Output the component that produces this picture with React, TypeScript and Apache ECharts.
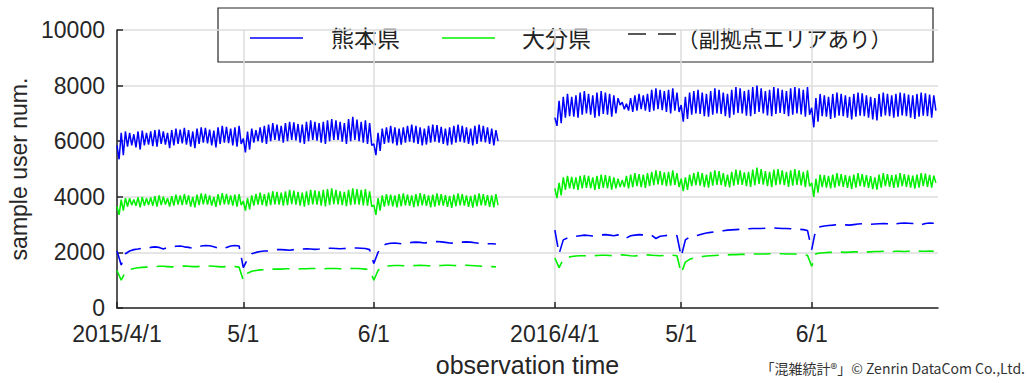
import React, { useEffect, useRef } from "react";
import * as echarts from "echarts";

// ---- axis definition (days counted from 2015/4/1; 2016/4/1 placed after a gap) ----
const tickLabels = ["2015/4/1", "5/1", "6/1", "2016/4/1", "5/1", "6/1"];
const tickDays = [0, 30, 61, 104, 134, 165];
const periodStartDays = [0, 104];
const totalDays = 195;
const yTicks = [0, 2000, 4000, 6000, 8000, 10000];

// ---- 熊本県 (solid) : daily peaks / troughs ----
const kumamotoPeak2015 = [
  5850, 6300, 6350, 6300, 6250, 6350, 6380, 6300, 6350, 6400, 6420, 6350, 6300, 6400, 6450, 6420, 6480, 6400, 6350, 6450,
  6500, 6480, 6420, 6380, 6500, 6550, 6520, 6450, 6500, 6550,
  6100, 6350, 6450, 6400, 6500, 6550, 6600, 6650, 6600, 6550, 6650, 6700, 6680, 6620, 6600, 6700, 6750, 6700, 6650, 6700,
  6750, 6800, 6750, 6700, 6650, 6800, 6880, 6780, 6700, 6750, 6650,
  5900, 6300, 6450, 6500, 6550, 6500, 6450, 6500, 6550, 6600, 6550, 6500, 6450, 6550, 6600, 6580, 6520, 6450, 6500, 6550,
  6600, 6550, 6500, 6450, 6550, 6600, 6550, 6500, 6450, 6400,
];
const kumamotoTrough2015 = [
  5350, 5500, 5800, 5850, 5780, 5700, 5850, 5880, 5820, 5800, 5900, 5880, 5750, 5850, 5900, 5920, 5880, 5800, 5750, 5900,
  5950, 5920, 5850, 5780, 5900, 5950, 5930, 5850, 5800, 5900,
  5600, 5700, 5950, 6000, 5950, 5900, 6000, 6050, 6020, 5950, 6000, 6050, 6030, 5950, 5900, 6000, 6050, 6020, 5950, 5900,
  6000, 6050, 6050, 5980, 5900, 6000, 6050, 6000, 5950, 5900, 5850,
  5500, 5650, 5900, 5950, 5920, 5850, 5880, 5950, 5980, 5950, 5900, 5850, 5880, 5950, 5980, 5950, 5900, 5850, 5880, 5950,
  5980, 5950, 5900, 5850, 5900, 5980, 5960, 5900, 5850, 6000,
];
const kumamotoPeak2016 = [
  6850, 7450, 7600, 7700, 7600, 7650, 7750, 7800, 7700, 7650, 7750, 7800, 7750, 7700, 7650, 7550, 7400, 7350, 7550, 7650,
  7700, 7650, 7700, 7850, 7900, 7850, 7800, 7850, 7900, 7750,
  7300, 7600, 7750, 7800, 7850, 7750, 7700, 7800, 7900, 7850, 7750, 7700, 7850, 7950, 7900, 7800, 7850, 7950, 8000, 7900,
  7800, 7850, 7950, 7900, 7850, 7800, 7900, 7950, 7900, 7850, 7950,
  7200, 7550, 7700, 7650, 7600, 7700, 7750, 7700, 7650, 7600, 7700, 7750, 7720, 7650, 7600, 7550, 7700, 7750, 7700, 7650,
  7700, 7750, 7720, 7680, 7650, 7700, 7750, 7720, 7680, 7650,
];
const kumamotoTrough2016 = [
  6550, 6650, 6850, 6900, 6880, 6850, 6950, 7000, 6950, 6850, 6900, 6980, 6950, 6880, 7000, 7300, 7150, 7100, 7050, 7100,
  7150, 7100, 7050, 7100, 7150, 7120, 7050, 7000, 7100, 7050,
  6700, 6800, 6950, 7000, 6980, 6900, 6880, 6950, 7000, 6980, 6900, 6850, 6950, 7020, 7000, 6920, 6900, 6980, 7050, 7000,
  6930, 6900, 6980, 7020, 6980, 6900, 6950, 7000, 6960, 6880, 6950,
  6500, 6700, 6900, 6880, 6800, 6850, 6920, 6900, 6850, 6780, 6880, 6920, 6900, 6850, 6780, 6750, 6880, 6930, 6900, 6850,
  6880, 6930, 6900, 6850, 6800, 6880, 6920, 6900, 6850, 7100,
];

// ---- 大分県 (solid) : daily peaks / troughs ----
const oitaPeak2015 = [
  3650, 3900, 3950, 3950, 3900, 3980, 4000, 3950, 3980, 4020, 4050, 4000, 3950, 4020, 4080, 4050, 4100, 4050, 4000, 4080,
  4120, 4100, 4050, 4000, 4100, 4130, 4100, 4050, 4080, 4100,
  3850, 3950, 4050, 4100, 4150, 4100, 4150, 4200, 4180, 4150, 4200, 4250, 4220, 4180, 4150, 4200, 4250, 4230, 4200, 4250,
  4280, 4300, 4250, 4200, 4180, 4250, 4300, 4280, 4250, 4280, 4200,
  3700, 3950, 4050, 4100, 4080, 4050, 4100, 4120, 4080, 4050, 4100, 4130, 4100, 4050, 4080, 4120, 4100, 4060, 4030, 4080,
  4120, 4100, 4050, 4030, 4080, 4120, 4100, 4060, 4050, 4100,
];
const oitaTrough2015 = [
  3350, 3500, 3650, 3700, 3680, 3620, 3680, 3700, 3680, 3650, 3700, 3720, 3650, 3680, 3720, 3700, 3720, 3650, 3620, 3700,
  3730, 3720, 3680, 3640, 3700, 3730, 3720, 3680, 3650, 3700,
  3500, 3550, 3680, 3720, 3700, 3660, 3700, 3730, 3720, 3680, 3700, 3740, 3720, 3680, 3650, 3700, 3730, 3720, 3680, 3650,
  3700, 3740, 3730, 3700, 3660, 3700, 3730, 3720, 3690, 3680, 3650,
  3350, 3500, 3650, 3680, 3660, 3620, 3660, 3690, 3670, 3630, 3660, 3690, 3670, 3620, 3650, 3690, 3680, 3640, 3600, 3660,
  3690, 3680, 3640, 3610, 3660, 3690, 3680, 3640, 3620, 3700,
];
const oitaPeak2016 = [
  4300, 4500, 4700, 4750, 4720, 4700, 4750, 4780, 4750, 4700, 4750, 4800, 4780, 4750, 4700, 4650, 4600, 4750, 4800, 4850,
  4820, 4800, 4850, 4900, 4950, 4920, 4880, 4900, 4950, 4850,
  4650, 4700, 4800, 4850, 4900, 4850, 4800, 4900, 4950, 4920, 4850, 4800, 4900, 4980, 4950, 4880, 4900, 4980, 5050, 5000,
  4920, 4900, 4980, 5000, 4950, 4900, 4950, 5000, 4950, 4900, 4950,
  4500, 4650, 4800, 4780, 4750, 4800, 4850, 4820, 4780, 4750, 4800, 4850, 4820, 4780, 4740, 4700, 4800, 4850, 4820, 4780,
  4800, 4850, 4820, 4790, 4760, 4800, 4850, 4830, 4790, 4760,
];
const oitaTrough2016 = [
  3950, 4050, 4250, 4300, 4280, 4250, 4300, 4320, 4300, 4250, 4280, 4320, 4300, 4260, 4300, 4350, 4350, 4300, 4350, 4380,
  4350, 4320, 4380, 4420, 4450, 4420, 4380, 4400, 4430, 4350,
  4200, 4250, 4380, 4420, 4400, 4350, 4330, 4400, 4430, 4420, 4370, 4340, 4400, 4440, 4430, 4380, 4360, 4420, 4460, 4440,
  4380, 4350, 4420, 4450, 4420, 4360, 4400, 4430, 4410, 4350, 4380,
  4000, 4150, 4350, 4330, 4300, 4330, 4380, 4360, 4320, 4280, 4330, 4380, 4360, 4320, 4280, 4260, 4330, 4380, 4360, 4320,
  4340, 4380, 4360, 4330, 4290, 4330, 4380, 4360, 4330, 4500,
];

// ---- （副拠点エリアあり） (dashed) : daily values ----
const kumamotoSub2015 = [
  2050, 1550, 1950, 2050, 2100, 2120, 2150, 2130, 2180, 2200, 2180, 2120, 2180, 2200, 2220, 2230, 2200, 2180, 2150, 2200,
  2230, 2250, 2240, 2200, 2150, 2120, 2180, 2230, 2250, 2230,
  1450, 1750, 1950, 2000, 2030, 2050, 2050, 2080, 2100, 2100, 2090, 2080, 2100, 2120, 2120, 2130, 2120, 2110, 2120, 2140,
  2150, 2150, 2140, 2130, 2140, 2150, 2160, 2160, 2150, 2140, 2100,
  1600, 2000, 2250, 2300, 2330, 2340, 2320, 2300, 2330, 2360, 2370, 2360, 2340, 2360, 2380, 2390, 2380, 2360, 2340, 2330,
  2350, 2370, 2380, 2370, 2350, 2330, 2320, 2310, 2310, 2300,
];
const oitaSub2015 = [
  1350, 1000, 1300, 1380, 1420, 1450, 1460, 1470, 1480, 1490, 1500, 1500, 1490, 1480, 1490, 1500, 1510, 1500, 1490, 1490,
  1500, 1510, 1510, 1500, 1490, 1480, 1490, 1500, 1490, 1470,
  1000, 1250, 1320, 1350, 1370, 1380, 1390, 1400, 1400, 1400, 1410, 1410, 1400, 1400, 1410, 1410, 1420, 1420, 1410, 1410,
  1420, 1420, 1420, 1410, 1410, 1420, 1420, 1420, 1410, 1400, 1380,
  1000, 1350, 1480, 1510, 1520, 1530, 1530, 1520, 1510, 1520, 1530, 1540, 1530, 1520, 1510, 1520, 1530, 1540, 1540, 1530,
  1520, 1530, 1540, 1530, 1520, 1510, 1500, 1500, 1490, 1480,
];
const kumamotoSub2016 = [
  2800, 1950, 2450, 2520, 2560, 2580, 2600, 2620, 2610, 2590, 2600, 2630, 2640, 2620, 2600, 2630, 2640, 2520, 2600, 2620,
  2640, 2630, 2600, 2620, 2500, 2580, 2600, 2620, 2630, 2600,
  1850, 2450, 2550, 2580, 2620, 2660, 2700, 2720, 2740, 2760, 2780, 2800, 2810, 2820, 2830, 2840, 2850, 2860, 2860, 2860,
  2870, 2870, 2880, 2870, 2860, 2860, 2850, 2840, 2830, 2820, 2790,
  2100, 2850, 2920, 2950, 2970, 2980, 3000, 3000, 2990, 2980, 3000, 3020, 3030, 3020, 3010, 3020, 3030, 3040, 3030, 2980,
  3030, 3050, 3060, 3050, 3040, 3050, 2990, 3040, 3060, 3050,
];
const oitaSub2016 = [
  1800, 1450, 1750, 1820, 1850, 1870, 1880, 1880, 1870, 1880, 1890, 1900, 1900, 1890, 1880, 1900, 1910, 1900, 1880, 1870,
  1890, 1900, 1910, 1900, 1890, 1880, 1890, 1900, 1900, 1880,
  1250, 1650, 1750, 1800, 1830, 1850, 1870, 1880, 1890, 1900, 1910, 1910, 1920, 1920, 1930, 1930, 1930, 1940, 1940, 1940,
  1940, 1950, 1950, 1950, 1950, 1940, 1940, 1940, 1930, 1920, 1900,
  1500, 1950, 1980, 1990, 2000, 2000, 2010, 2010, 2000, 2010, 2020, 2020, 2030, 2020, 2020, 2030, 2030, 2040, 2030, 2030,
  2040, 2040, 2030, 2040, 2040, 2050, 2040, 2040, 2050, 2040,
];

const BLUE = "#0000ff";
const GREEN = "#00f000";
const INK = "#262626";
const FONT = "'Liberation Sans', Arial, Helvetica, sans-serif";
const CJK = "'Noto Sans CJK JP', 'Noto Sans', sans-serif";

// two slots per day (daytime peak, night trough)
const slotCount = totalDays * 2 + 1;
const categories = Array.from({ length: slotCount }, (_, i) => String(i));
const tickSlotToLabel: Record<number, string> = {};
tickDays.forEach((d, i) => {
  tickSlotToLabel[d * 2] = tickLabels[i];
});
const isTickSlot = (index: number) => tickSlotToLabel[index] !== undefined;

function oscillating(peaks: number[], troughs: number[], startDay: number) {
  const out: [number, number][] = [];
  peaks.forEach((p, d) => {
    out.push([(startDay + d) * 2, p]);
    out.push([(startDay + d) * 2 + 1, troughs[d]]);
  });
  return out;
}
function daily(values: number[], startDay: number) {
  return values.map((v, d) => [(startDay + d) * 2, v] as [number, number]);
}

function solid(name: string, color: string, data: [number, number][]) {
  return {
    name,
    type: "line",
    data,
    showSymbol: false,
    symbol: "none",
    lineStyle: { color, width: 1.5 },
    itemStyle: { color },
    silent: true,
  };
}
function dashed(name: string, color: string, data: [number, number][]) {
  return {
    name,
    type: "line",
    data,
    showSymbol: false,
    symbol: "none",
    lineStyle: { color, width: 1.6, type: [17, 9] },
    itemStyle: { color },
    silent: true,
  };
}

export default function App() {
  const ref = useRef<HTMLDivElement>(null);
  useEffect(() => {
    if (!ref.current) return;
    const chart = echarts.init(ref.current, undefined, { renderer: "svg" });
    const [s15, s16] = periodStartDays;
    const option = {
      animation: false,
      backgroundColor: "#ffffff",
      grid: { left: 117, right: 90, top: 30, bottom: 75, outerBoundsMode: "none" },
      xAxis: {
        type: "category",
        data: categories,
        boundaryGap: false,
        name: "observation time",
        nameLocation: "middle",
        nameGap: 44,
        nameTextStyle: { fontSize: 25, color: INK, fontFamily: FONT },
        axisLine: { show: true, lineStyle: { color: INK, width: 1.5 } },
        axisTick: { show: true, inside: true, length: 6, interval: (i: number) => isTickSlot(i), lineStyle: { color: INK, width: 1.5 } },
        axisLabel: {
          interval: (i: number) => isTickSlot(i),
          formatter: (_v: string, i: number) => tickSlotToLabel[i] ?? "",
          fontSize: 23,
          color: INK,
          fontFamily: FONT,
          margin: 14,
        },
        splitLine: { show: true, interval: (i: number) => isTickSlot(i), lineStyle: { color: "#dcdcdc", width: 1.5 } },
      },
      yAxis: {
        type: "value",
        min: yTicks[0],
        max: yTicks[yTicks.length - 1],
        interval: yTicks[1] - yTicks[0],
        name: "sample user num.",
        nameLocation: "middle",
        nameGap: 76,
        nameTextStyle: { fontSize: 23, color: INK, fontFamily: FONT },
        axisLine: { show: true, lineStyle: { color: INK, width: 1.5 } },
        axisTick: { show: true, inside: true, length: 6, lineStyle: { color: INK, width: 1.5 } },
        axisLabel: { fontSize: 23, color: INK, fontFamily: FONT, margin: 12, formatter: (v: number) => String(v) },
        splitLine: { show: true, lineStyle: { color: "#dcdcdc", width: 1.5 } },
      },
      series: [
        solid("熊本県", BLUE, oscillating(kumamotoPeak2015, kumamotoTrough2015, s15)),
        solid("熊本県", BLUE, oscillating(kumamotoPeak2016, kumamotoTrough2016, s16)),
        solid("大分県", GREEN, oscillating(oitaPeak2015, oitaTrough2015, s15)),
        solid("大分県", GREEN, oscillating(oitaPeak2016, oitaTrough2016, s16)),
        dashed("熊本県（副拠点エリアあり）", BLUE, daily(kumamotoSub2015, s15)),
        dashed("熊本県（副拠点エリアあり）", BLUE, daily(kumamotoSub2016, s16)),
        dashed("大分県（副拠点エリアあり）", GREEN, daily(oitaSub2015, s15)),
        dashed("大分県（副拠点エリアあり）", GREEN, daily(oitaSub2016, s16)),
      ],
      graphic: [
        {
          type: "group",
          z: 100,
          children: [
            { type: "rect", shape: { x: 218, y: 8, width: 715, height: 54 }, style: { fill: "#ffffff", stroke: INK, lineWidth: 1.2 } },
            { type: "line", shape: { x1: 250, y1: 38, x2: 303, y2: 38 }, style: { stroke: BLUE, lineWidth: 1.5 } },
            { type: "text", x: 331, y: 37, style: { text: "熊本県", fontSize: 23, fontFamily: CJK, fill: "#222", verticalAlign: "middle", align: "left" } },
            { type: "line", shape: { x1: 442, y1: 38, x2: 495, y2: 38 }, style: { stroke: GREEN, lineWidth: 1.5 } },
            { type: "text", x: 522, y: 37, style: { text: "大分県", fontSize: 23, fontFamily: CJK, fill: "#222", verticalAlign: "middle", align: "left" } },
            { type: "line", shape: { x1: 628, y1: 34, x2: 678, y2: 34 }, style: { stroke: "#222", lineWidth: 1.5, lineDash: [18, 12] } },
            { type: "text", x: 677, y: 37, style: { text: "（副拠点エリアあり）", fontSize: 21.5, fontFamily: CJK, fill: "#222", verticalAlign: "middle", align: "left" } },
          ],
        },
        {
          type: "text",
          right: 3,
          top: 361,
          style: { text: "「混雑統計®」© Zenrin DataCom Co.,Ltd.", fontSize: 14, fontFamily: CJK, fill: "#333" },
        },
      ],
    };
    chart.setOption(option as any);
    return () => chart.dispose();
  }, []);
  return <div ref={ref} style={{ position: "fixed", left: 0, top: 0, width: 1028, height: 383 }} />;
}
